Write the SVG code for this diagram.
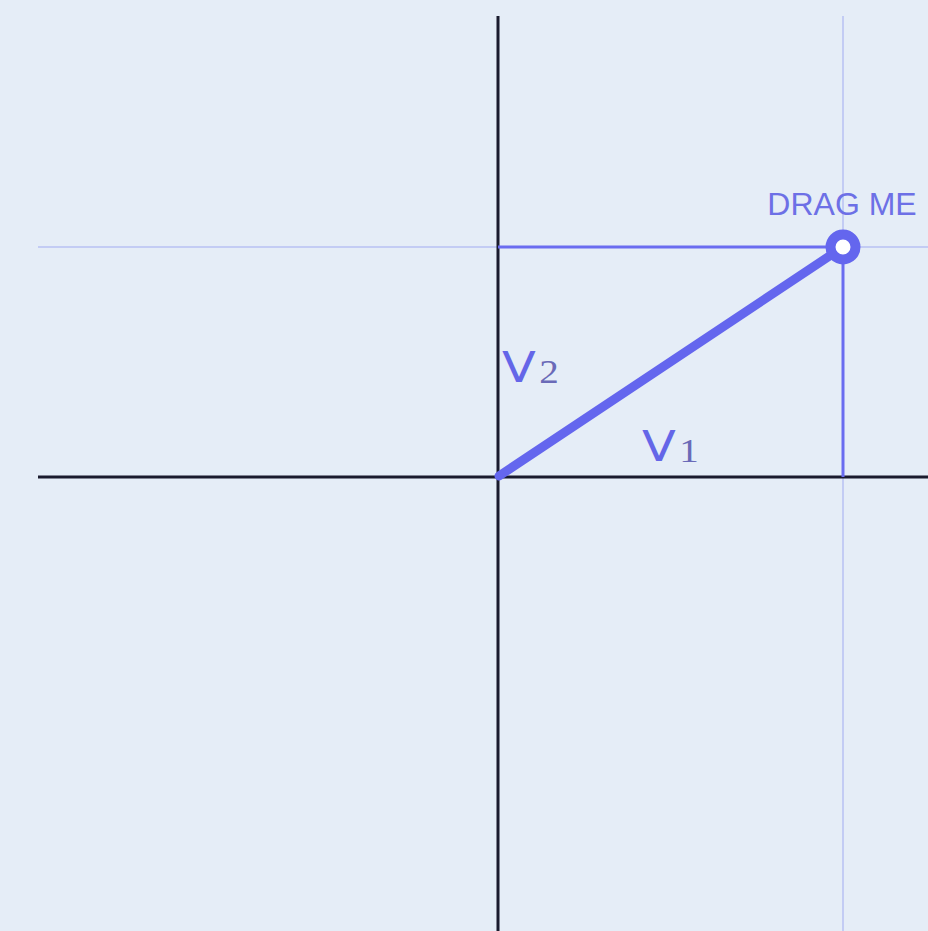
<svg xmlns="http://www.w3.org/2000/svg" width="928" height="931" viewBox="0 0 928 931">
<style>
.axis{stroke:#1a1b2e;stroke-width:3;fill:none}
.guide{stroke:#c3ccf4;stroke-width:2;fill:none}
.proj{stroke:#6a6cf0;stroke-width:3;fill:none}
.vec{stroke:#6466ee;stroke-width:9;stroke-linecap:round;fill:none}
.lbl{fill:#6466e8;font-family:"DejaVu Sans","Noto Sans",sans-serif;font-size:43px}
.sub{fill:#6a6ab8;font-family:"Liberation Serif",serif;font-size:34px}
.drag{fill:#6d70e6;font-family:"Liberation Sans",Arial,sans-serif;font-size:32px}
</style>
<rect width="928" height="931" fill="#e5edf7"/>
<g id="connectors">
<line class="guide" x1="843" y1="16" x2="843" y2="931"/>
<line class="guide" x1="38" y1="247" x2="928" y2="247"/>
<line class="axis" x1="498" y1="16" x2="498" y2="931"/>
<line class="axis" x1="38" y1="477" x2="928" y2="477"/>
<line class="proj" x1="498" y1="247" x2="843" y2="247"/>
<line class="proj" x1="843" y1="247" x2="843" y2="477"/>
<line class="vec" x1="499" y1="476" x2="843" y2="247"/>
</g>
<g id="handle">
<circle cx="843" cy="247" r="12.5" fill="#ffffff" stroke="#6466ee" stroke-width="10"/>
<text class="drag" x="842" y="215" text-anchor="middle">DRAG ME</text>
</g>
<g id="labels">
<text class="lbl" transform="translate(502,382) scale(1.15,1)">V<tspan class="sub" dx="3" dy="1">2</tspan></text>
<text class="lbl" transform="translate(642,461) scale(1.15,1)">V<tspan class="sub" dx="3" dy="1">1</tspan></text>
</g>
</svg>
